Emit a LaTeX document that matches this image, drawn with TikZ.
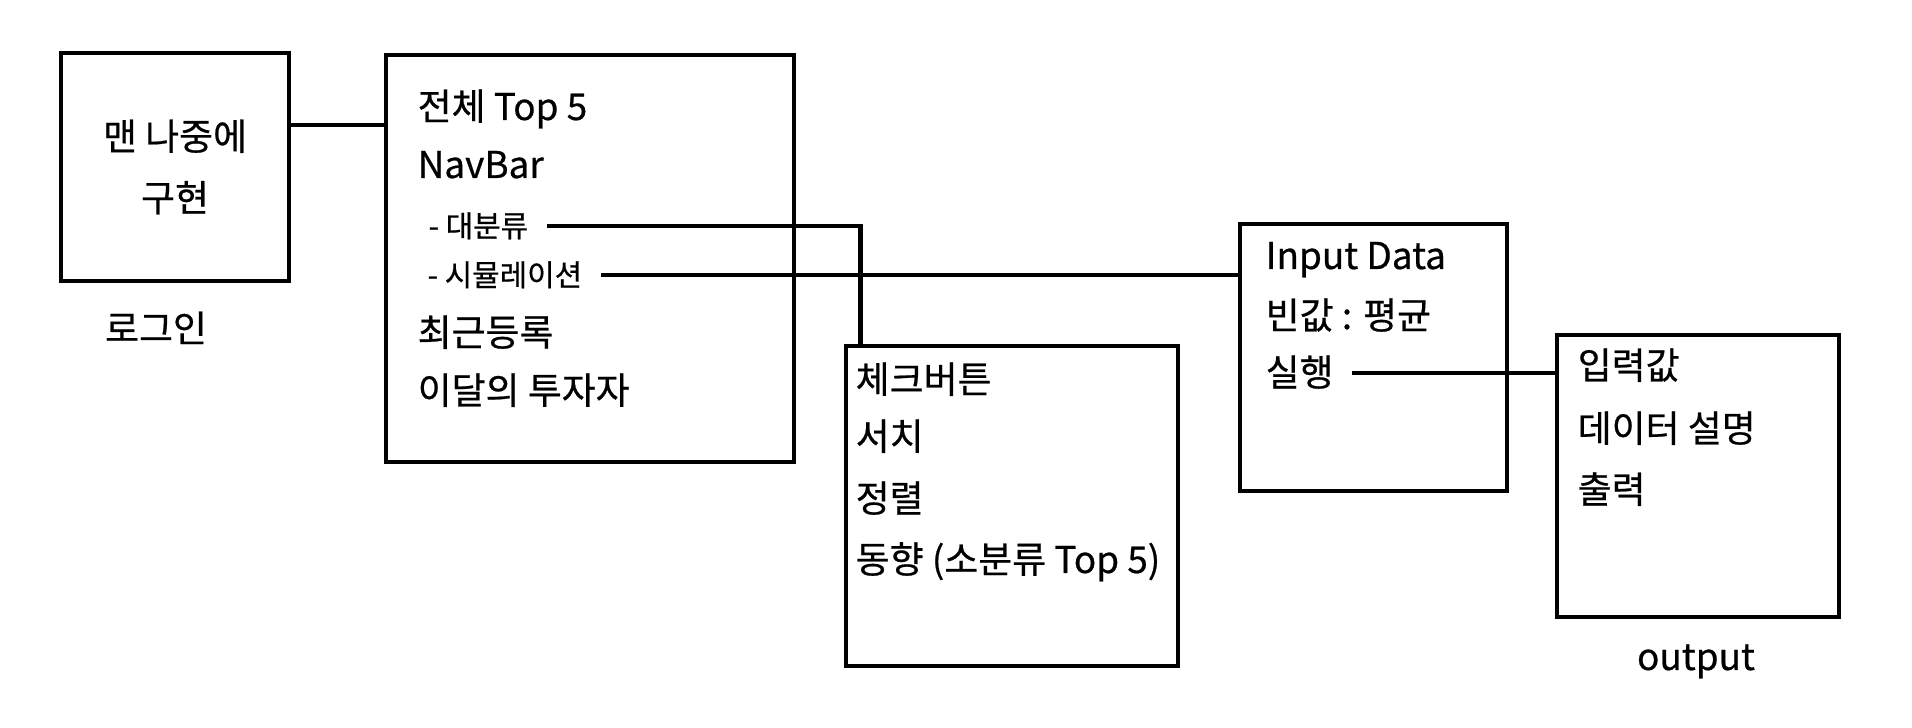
\documentclass[tikz,border=0pt]{standalone}
\usepackage{fontspec}
\setmainfont{Noto Sans CJK KR}[FakeBold=0.6]
\usetikzlibrary{calc}
\tikzset{block/.style={draw, line width=1.3pt, inner sep=0pt},
line/.style={line width=1.3pt},
txt/.style={anchor=west, inner sep=0pt, text height=3.2mm, text depth=0.6mm, font=\fontsize{10.5}{12}\selectfont},
subtxt/.style={txt, text height=2.7mm, text depth=0.5mm, font=\fontsize{8.5}{10}\selectfont}
}

\begin{document}
\begin{tikzpicture}[x=0.1mm, y=-0.1mm]
\useasboundingbox (0,0) rectangle (1912,728);

\node[block, minimum width=22.8mm, minimum height=22.8mm, align=center, font=\fontsize{10.5}{17.5}\selectfont] (login) at (175,167) {맨 나중에\\구현};
\node[block, minimum width=40.8mm, minimum height=40.7mm] (main) at (590,258.5) {};
\node[block, minimum width=33.2mm, minimum height=32mm] (filter) at (1012,506) {};
\node[block, minimum width=26.7mm, minimum height=26.7mm] (input) at (1373.5,357.5) {};
\node[block, minimum width=28.2mm, minimum height=28.2mm] (output) at (1698,476) {};

\node[txt, anchor=center] (logincap) at (156,329) {로그인};
\node[txt, anchor=center] (outputcap) at (1696,657) {output};

% main page
\node[txt] (top) at (417,107) {전체 Top 5};
\node[txt] (navbar) at (417,165) {NavBar};
\node[subtxt] (daebun) at (428,226) {- 대분류};
\node[subtxt] (simul) at (427,275) {- 시뮬레이션};
\node[txt] (recent) at (417,333) {최근등록};
\node[txt] (investor) at (417,391) {이달의 투자자};

\node[txt] (check) at (855,380) {체크버튼};
\node[txt] (search) at (855,437) {서치};
\node[txt] (sort) at (855,499) {정렬};
\node[txt] (trend) at (855,560) {동향 (소분류 Top 5)};

\node[txt] (indata) at (1265,256) {Input Data};
\node[txt] (blank) at (1265,316) {빈값 : 평균};
\node[txt] (run) at (1265,373) {실행};

\node[txt] (inval) at (1577,366) {입력값};
\node[txt] (desc) at (1577,429) {데이터 설명};
\node[txt] (print) at (1577,490) {출력};

\draw[line] ($(login.north east)!0.32!(login.south east)$) coordinate (lg) -- (lg -| main.west);
\draw[line, shorten <=1.8mm] (daebun.east) -| ($(filter.north west)!0.05!(filter.north east)$);
\draw[line, shorten <=1.8mm] (simul.east) -- (simul.east -| input.west);
\draw[line, shorten <=1.8mm] (run.east) -- (run.east -| output.west);

\end{tikzpicture}
\end{document}
